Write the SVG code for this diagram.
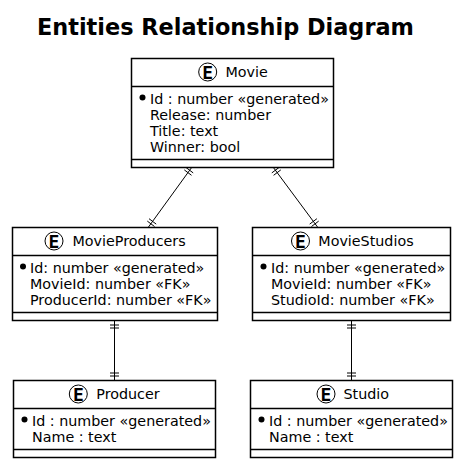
<svg xmlns="http://www.w3.org/2000/svg" width="458" height="463" viewBox="0 0 458 463">
<style>
text{font-family:"DejaVu Sans",sans-serif;font-size:14.3px;fill:#000}
.title{font-size:22.4px;font-weight:bold}
.box{fill:#fff;stroke:#000;stroke-width:1.5}
.sep{stroke:#000;stroke-width:1.5;fill:none}
.circ{fill:#fff;stroke:#000;stroke-width:1}
.e{font-family:"DejaVu Sans Mono",monospace;font-size:18px;font-weight:bold;text-anchor:middle}
.conn{stroke:#000;stroke-width:1;fill:none}
</style>
<rect width="458" height="463" fill="#fff"/>
<text class="title" x="37" y="35">Entities Relationship Diagram</text>
<g id="connectors">
<path class="conn" d="M192 167L148.500 227M186 167.500L193.200 172.900M184.300 169.900L191.500 175.300M147.300 221.100L154.500 226.500M149 218.700L156.200 224.100"/>
<path class="conn" d="M273 167L317.500 227M271.800 172.900L279 167.500M273.600 175.300L280.800 169.900M311.500 226.500L318.700 221.100M309.700 224.100L316.900 218.700"/>
<path class="conn" d="M114.500 320V380M110 325h9M110 328h9M110 373h9M110 376h9"/>
<path class="conn" d="M351.500 320V380M347 325h9M347 328h9M347 373h9M347 376h9"/>
</g>
<g id="movie">
<rect class="box" x="131.500" y="58.500" width="202" height="109"/>
<path class="sep" d="M131.500 86.500h202M131.500 159.500h202"/>
<circle class="circ" cx="207.700" cy="72" r="9"/><text class="e" x="207.700" y="78.500">E</text>
<text x="225.500" y="77">Movie</text>
<circle cx="142.500" cy="97.500" r="3"/>
<text x="150" y="104">Id : number «generated»</text>
<text x="150" y="120">Release: number</text>
<text x="150" y="136">Title: text</text>
<text x="150" y="152">Winner: bool</text>
</g>
<g id="movieproducers">
<rect class="box" x="12.500" y="227.500" width="205" height="93"/>
<path class="sep" d="M12.500 255.500h205M12.500 312.500h205"/>
<circle class="circ" cx="54" cy="241" r="9"/><text class="e" x="54" y="247.500">E</text>
<text x="72.500" y="246">MovieProducers</text>
<circle cx="23" cy="266.500" r="3"/>
<text x="30" y="273">Id: number «generated»</text>
<text x="30" y="289">MovieId: number «FK»</text>
<text x="30" y="305">ProducerId: number «FK»</text>
</g>
<g id="moviestudios">
<rect class="box" x="252.500" y="227.500" width="198" height="93"/>
<path class="sep" d="M252.500 255.500h198M252.500 312.500h198"/>
<circle class="circ" cx="300.500" cy="241" r="9"/><text class="e" x="300.500" y="247.500">E</text>
<text x="318.300" y="246">MovieStudios</text>
<circle cx="263.500" cy="266.500" r="3"/>
<text x="271" y="273">Id: number «generated»</text>
<text x="271" y="289">MovieId: number «FK»</text>
<text x="271" y="305">StudioId: number «FK»</text>
</g>
<g id="producer">
<rect class="box" x="13.500" y="380.500" width="202" height="77"/>
<path class="sep" d="M13.500 408.500h202M13.500 449.500h202"/>
<circle class="circ" cx="78.300" cy="394" r="9"/><text class="e" x="78.300" y="400.500">E</text>
<text x="96.300" y="399">Producer</text>
<circle cx="24.500" cy="419.500" r="3"/>
<text x="32" y="426">Id : number «generated»</text>
<text x="32" y="442">Name : text</text>
</g>
<g id="studio">
<rect class="box" x="250.500" y="380.500" width="202" height="77"/>
<path class="sep" d="M250.500 408.500h202M250.500 449.500h202"/>
<circle class="circ" cx="326" cy="394" r="9"/><text class="e" x="326" y="400.500">E</text>
<text x="343.500" y="399">Studio</text>
<circle cx="261.500" cy="419.500" r="3"/>
<text x="269" y="426">Id : number «generated»</text>
<text x="269" y="442">Name : text</text>
</g>
</svg>
